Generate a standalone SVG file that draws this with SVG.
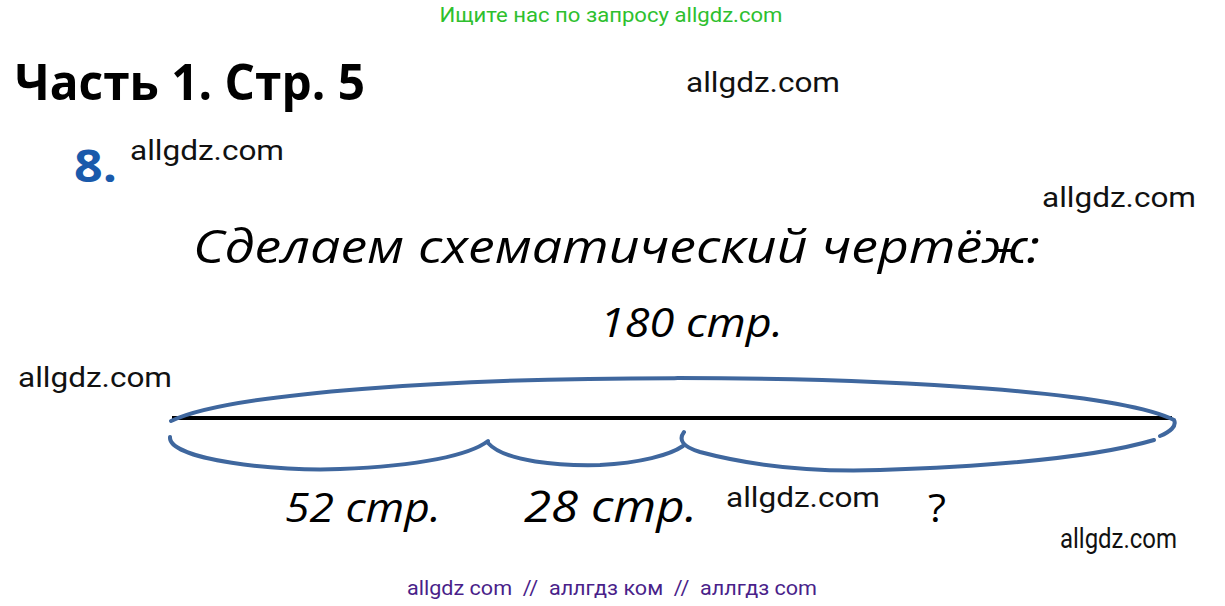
<svg xmlns="http://www.w3.org/2000/svg" width="1225" height="606" viewBox="0 0 1225 606">
<style>
.wm{font-family:Roboto,"Liberation Sans",sans-serif;font-size:28px;fill:#111}
.it{font-family:"Open Sans","Noto Sans",sans-serif;font-style:italic;fill:#000}
.arc{fill:none;stroke:#3f679e;stroke-width:4;stroke-linecap:round}
</style>
<rect width="1225" height="606" fill="#fff"/>
<text x="611" y="22" text-anchor="middle" font-family="Roboto,'Liberation Sans',sans-serif" font-size="20" fill="#2ec02e" textLength="343" lengthAdjust="spacingAndGlyphs">Ищите нас по запросу allgdz.com</text>
<text x="15" y="100" font-family="'Open Sans','Noto Sans',sans-serif" font-weight="bold" font-size="50" fill="#000" textLength="350" lengthAdjust="spacingAndGlyphs">Часть 1. Стр. 5</text>
<text x="74" y="182" font-family="'Open Sans','Noto Sans',sans-serif" font-weight="bold" font-size="44" fill="#1a5aab" textLength="43" lengthAdjust="spacingAndGlyphs">8.</text>
<g id="watermarks">
<text class="wm" x="130" y="160" textLength="154" lengthAdjust="spacingAndGlyphs">allgdz.com</text>
<text class="wm" x="686" y="92" textLength="154" lengthAdjust="spacingAndGlyphs">allgdz.com</text>
<text class="wm" x="1042" y="207" textLength="154" lengthAdjust="spacingAndGlyphs">allgdz.com</text>
<text class="wm" x="18" y="387" textLength="154" lengthAdjust="spacingAndGlyphs">allgdz.com</text>
<text class="wm" x="726" y="507" textLength="154" lengthAdjust="spacingAndGlyphs">allgdz.com</text>
<text class="wm" x="1060" y="548" font-size="22" textLength="117" lengthAdjust="spacingAndGlyphs">allgdz.com</text>
</g>
<text class="it" x="193" y="263" font-size="46" textLength="847" lengthAdjust="spacingAndGlyphs">Сделаем схематический чертёж:</text>
<g id="total-label"><text class="it" x="600" y="337" font-size="40" textLength="183" lengthAdjust="spacingAndGlyphs">180 стр.</text></g>
<g id="connectors">
<line x1="172" y1="418" x2="1172" y2="418" stroke="#000" stroke-width="4"/>
<path class="arc" d="M171,421 C290,364 1060,364 1174,420 C1177,426 1170,432 1160,436"/>
<path class="arc" d="M170,437 C168,460 280,472 340,469 C420,466 470,455 488,441"/>
<path class="arc" d="M488,443 C505,462 560,466 600,465 C640,463 670,455 683,446"/>
<path class="arc" d="M684,432 C678,440 683,447 700,452 C760,468 820,472 880,470 C1000,466 1100,456 1154,440"/>
</g>
<g id="part-labels">
<text class="it" x="285" y="522" font-size="40" textLength="156" lengthAdjust="spacingAndGlyphs">52 стр.</text>
<text class="it" x="524" y="522" font-size="44" textLength="173" lengthAdjust="spacingAndGlyphs">28 стр.</text>
<text x="928" y="522" font-family="'Open Sans','Noto Sans',sans-serif" font-size="38" fill="#000" textLength="18" lengthAdjust="spacingAndGlyphs">?</text>
</g>
<text x="612" y="595" text-anchor="middle" font-family="Roboto,'Liberation Sans',sans-serif" font-size="20" fill="#4a1f8a" textLength="410" lengthAdjust="spacingAndGlyphs" xml:space="preserve">allgdz com  //  аллгдз ком  //  аллгдз com</text>
</svg>
